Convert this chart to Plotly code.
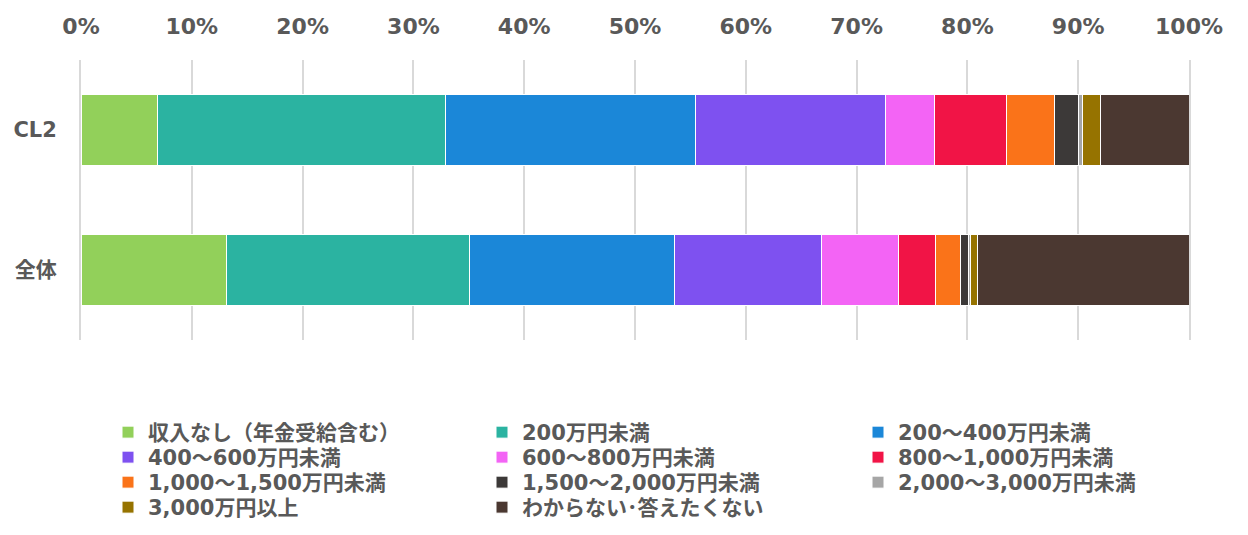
import plotly.graph_objects as go

categories = ["CL2", "全体"]
series_names = [
    "収入なし（年金受給含む）", "200万円未満", "200～400万円未満",
    "400～600万円未満", "600～800万円未満", "800～1,000万円未満",
    "1,000～1,500万円未満", "1,500～2,000万円未満", "2,000～3,000万円未満",
    "3,000万円以上", "わからない･答えたくない",
]
cl2_values = [6.9, 26.0, 22.6, 17.1, 4.4, 6.5, 4.4, 2.1, 0.4, 1.6, 8.0]
all_values = [13.1, 22.0, 18.5, 13.2, 7.0, 3.3, 2.3, 0.7, 0.2, 0.6, 19.1]
colors = ["#92d05a", "#2bb3a1", "#1b87d8", "#7e51f0", "#f364f5", "#f11446",
          "#fa7319", "#3c3938", "#a6a6a6", "#967300", "#4b3831"]
tick_vals = [0, 10, 20, 30, 40, 50, 60, 70, 80, 90, 100]
tick_text = [f"{v}%" for v in tick_vals]

FONT = "DejaVu Sans, Noto Sans CJK JP, sans-serif"
GRAY = "#595959"

W, H = 1248, 535
ML, MR, MT, MB = 81, 59, 60, 195
PW, PH = W - ML - MR, H - MT - MB

col_lefts = [108, 482, 858]
row_tops = [412, 437, 462, 487]

fig = go.Figure()
layout_legends = {}
for i, (name, a, b, c) in enumerate(zip(series_names, cl2_values, all_values, colors)):
    lid = "legend" if i == 0 else f"legend{i + 1}"
    fig.add_trace(go.Bar(
        name=name, y=categories, x=[a, b], orientation="h",
        marker=dict(color=c, line=dict(color="white", width=1)),
        legend=lid,
    ))
    lx = col_lefts[i % 3]
    ly = row_tops[i // 3]
    layout_legends[lid] = dict(
        orientation="v", xref="paper", yref="paper",
        x=(lx - ML) / PW, y=(MT + PH - ly) / PH,
        xanchor="left", yanchor="top", itemwidth=30,
        font=dict(size=21, color=GRAY, weight="bold", family=FONT),
        bgcolor="rgba(0,0,0,0)",
    )

fig.update_layout(
    barmode="stack",
    bargap=0.49,
    width=W, height=H,
    margin=dict(l=ML, r=MR, t=MT, b=MB, autoexpand=False),
    plot_bgcolor="white", paper_bgcolor="white",
    font=dict(family=FONT, color=GRAY, size=22, weight="bold"),
    xaxis=dict(
        side="top", range=[0, 100], tickvals=tick_vals, ticktext=tick_text,
        showgrid=True, gridcolor="#d9d9d9", gridwidth=2, zeroline=False,
        tickfont=dict(size=22, color=GRAY, weight="bold", family=FONT),
        ticklabelstandoff=21, fixedrange=True,
    ),
    yaxis=dict(
        categoryorder="array", categoryarray=categories, autorange="reversed",
        tickfont=dict(size=21, color=GRAY, weight="bold", family=FONT), ticks="",
        ticklabelstandoff=18,
        showline=True, linecolor="#d9d9d9", linewidth=2, mirror=True,
    ),
    showlegend=True,
)
fig.update_layout(layout_legends)

fig.write_html("out.html")
